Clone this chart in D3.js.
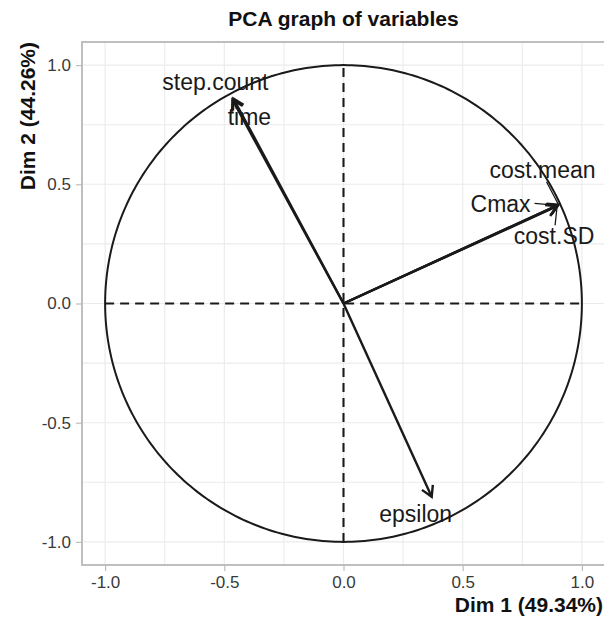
<!DOCTYPE html>
<html>
<head>
<meta charset="utf-8">
<script src="https://cdn.jsdelivr.net/npm/d3@7"></script>
<style>
  html, body { margin: 0; padding: 0; background: #fff; }
  svg { display: block; font-family: "Liberation Sans", Arial, Helvetica, sans-serif; }
</style>
</head>
<body>
<svg id="chart" width="604" height="619"></svg>
<script>
// ---- data ----
const variables = ["step.count", "time", "cost.mean", "Cmax", "cost.SD", "epsilon"];
const dim1 = [-0.462, -0.466, 0.902, 0.898, 0.896, 0.370];
const dim2 = [0.860, 0.855, 0.414, 0.412, 0.408, -0.811];
const majorTicks = [-1.0, -0.5, 0.0, 0.5, 1.0];
const minorTicks = [-0.75, -0.25, 0.25, 0.75];
const tickLabels = ["-1.0", "-0.5", "0.0", "0.5", "1.0"];
const titleText = "PCA graph of variables";
const xTitle = "Dim 1 (49.34%)";
const yTitle = "Dim 2 (44.26%)";
// label placement (pixel nudges relative to arrow tip, like ggrepel output)
const labelDx = [-18, 17, -16, -57, -3, -16];
const labelDy = [-8, 25, -27, 7, 38, 25];
// repel connector segment start (pixel offsets from tip), null = none
const segStart = [null, null, [-12, -23], [-23, -2], [-2, 19], null];

// ---- layout ----
const svg = d3.select("#chart");
const L = 82, R = 605, T = 42, B = 565;
const lim = 1.097;
const x = d3.scaleLinear().domain([-lim, lim]).range([L, R]);
const y = d3.scaleLinear().domain([-lim, lim]).range([B, T]);

const gridColor = "#ebebeb";
const borderColor = "#b8b8b8";

// grid
const grid = svg.append("g");
[...minorTicks, ...majorTicks].forEach(v => {
  grid.append("line").attr("x1", x(v)).attr("x2", x(v)).attr("y1", T).attr("y2", B)
    .attr("stroke", gridColor).attr("stroke-width", 1.1);
  grid.append("line").attr("y1", y(v)).attr("y2", y(v)).attr("x1", L).attr("x2", R)
    .attr("stroke", gridColor).attr("stroke-width", 1.1);
});

// axes
const xAxis = d3.axisBottom(x).tickValues(majorTicks).tickFormat((d, i) => tickLabels[i]).tickSize(6).tickPadding(5);
const yAxis = d3.axisLeft(y).tickValues(majorTicks).tickFormat((d, i) => tickLabels[i]).tickSize(6).tickPadding(5);
const gx = svg.append("g").attr("transform", `translate(0,${B})`).call(xAxis);
const gy = svg.append("g").attr("transform", `translate(${L},0)`).call(yAxis);
[gx, gy].forEach(g => {
  g.select(".domain").remove();
  g.selectAll(".tick line").attr("stroke", borderColor).attr("stroke-width", 1.1);
  g.selectAll(".tick text").attr("fill", "#3a3a3a").style("font-size", "17px")
    .style("font-family", '"Liberation Sans", Arial, sans-serif');
});

// panel border
svg.append("rect").attr("x", L).attr("y", T).attr("width", R - L).attr("height", B - T)
  .attr("fill", "none").attr("stroke", borderColor).attr("stroke-width", 1.8);

// dashed zero lines
svg.append("line").attr("x1", x(-1)).attr("x2", x(1)).attr("y1", y(0)).attr("y2", y(0))
  .attr("stroke", "#1a1a1a").attr("stroke-width", 2.1).attr("stroke-dasharray", "9,6");
svg.append("line").attr("x1", x(0)).attr("x2", x(0)).attr("y1", y(-1)).attr("y2", y(1))
  .attr("stroke", "#1a1a1a").attr("stroke-width", 2.1).attr("stroke-dasharray", "9,6");

// correlation circle
const circ = d3.range(0, 361, 1).map(a => [Math.cos(a * Math.PI / 180), Math.sin(a * Math.PI / 180)]);
svg.append("path").attr("d", d3.line().x(d => x(d[0])).y(d => y(d[1]))(circ))
  .attr("fill", "none").attr("stroke", "#1a1a1a").attr("stroke-width", 2);

// arrows
const ag = svg.append("g").attr("stroke", "#1a1a1a").attr("fill", "none")
  .attr("stroke-width", 2.4).attr("stroke-linecap", "butt");
variables.forEach((v, i) => {
  const x0 = x(0), y0 = y(0), x1 = x(dim1[i]), y1 = y(dim2[i]);
  ag.append("line").attr("x1", x0).attr("y1", y0).attr("x2", x1).attr("y2", y1);
  const ang = Math.atan2(y1 - y0, x1 - x0);
  const len = 12, spread = Math.PI / 6;
  const p1 = [x1 - len * Math.cos(ang - spread), y1 - len * Math.sin(ang - spread)];
  const p2 = [x1 - len * Math.cos(ang + spread), y1 - len * Math.sin(ang + spread)];
  ag.append("path").attr("d", `M${p1[0]},${p1[1]}L${x1},${y1}L${p2[0]},${p2[1]}`)
    .attr("stroke-linejoin", "miter");
});

// repel connector segments
variables.forEach((v, i) => {
  if (!segStart[i]) return;
  const x1 = x(dim1[i]), y1 = y(dim2[i]);
  svg.append("line").attr("x1", x1 + segStart[i][0]).attr("y1", y1 + segStart[i][1])
    .attr("x2", x1).attr("y2", y1).attr("stroke", "#1a1a1a").attr("stroke-width", 1.3);
});

// labels
variables.forEach((v, i) => {
  svg.append("text").attr("x", x(dim1[i]) + labelDx[i]).attr("y", y(dim2[i]) + labelDy[i])
    .attr("text-anchor", "middle").attr("fill", "#1a1a1a").style("font-size", "23px").text(v);
});

// title and axis titles
svg.append("text").attr("x", (L + R) / 2).attr("y", 26).attr("text-anchor", "middle")
  .style("font-size", "21px").style("font-weight", "bold").attr("fill", "#111").text(titleText);
svg.append("text").attr("x", 603).attr("y", 612).attr("text-anchor", "end")
  .style("font-size", "21px").style("font-weight", "bold").attr("fill", "#111").text(xTitle);
svg.append("text").attr("transform", `translate(35,${T}) rotate(-90)`).attr("text-anchor", "end")
  .style("font-size", "21px").style("font-weight", "bold").attr("fill", "#111").text(yTitle);
</script>
</body>
</html>
